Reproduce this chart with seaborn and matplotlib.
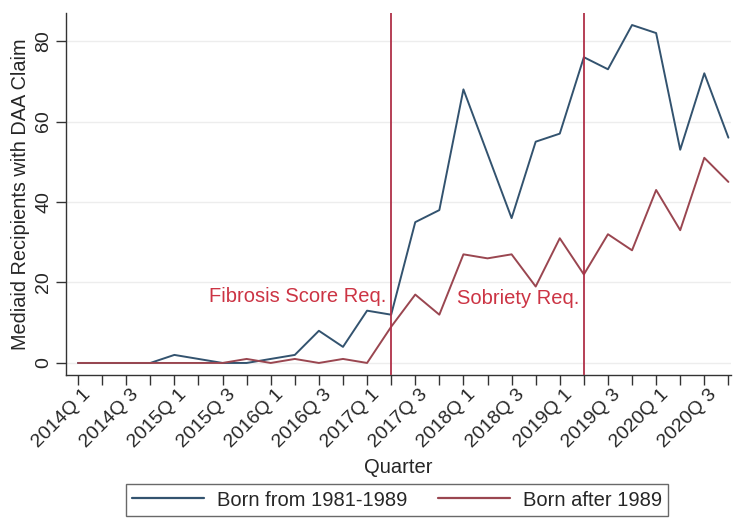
import matplotlib
matplotlib.use("Agg")
import matplotlib.pyplot as plt
import matplotlib.transforms as mtransforms
from matplotlib.lines import Line2D
import seaborn as sns
import pandas as pd

quarters = [f"{y}Q {q}" for y in range(2014, 2021) for q in range(1, 5)]
born_1981_1989 = [0, 0, 0, 0, 2, 1, 0, 0, 1, 2, 8, 4, 13, 12,
                  35, 38, 68, 52, 36, 55, 57, 76, 73, 84, 82, 53, 72, 56]
born_after_1989 = [0, 0, 0, 0, 0, 0, 0, 1, 0, 1, 0, 1, 0, 9,
                   17, 12, 27, 26, 27, 19, 31, 22, 32, 28, 43, 33, 51, 45]
series_names = ["Born from 1981-1989", "Born after 1989"]
policy_quarters = ["2017Q 2", "2019Q 2"]
policy_labels = ["Fibrosis Score Req.", "Sobriety Req."]
policy_label_y = [16.5, 16.0]
yticks = [0, 20, 40, 60, 80]

sns.set_theme(style="white")
plt.rcParams['font.family'] = ['Liberation Sans', 'DejaVu Sans']

df = pd.DataFrame({
    "idx": list(range(len(quarters))) * 2,
    "value": born_1981_1989 + born_after_1989,
    "series": [series_names[0]] * len(quarters) + [series_names[1]] * len(quarters),
})

fig = plt.figure(figsize=(7.33, 5.18), dpi=100)
ax = fig.add_axes([0.090, 0.276, 0.907, 0.699])

palette = {series_names[0]: "#33536f", series_names[1]: "#9a4650"}
sns.lineplot(data=df, x="idx", y="value", hue="series", palette=palette,
             linewidth=1.4, ax=ax, legend=False)

for q, lab, ly in zip(policy_quarters, policy_labels, policy_label_y):
    xi = quarters.index(q)
    ax.axvline(xi, color="#b03048", linewidth=1.3, zorder=3)
    ax.text(xi - 0.2, ly, lab, ha="right", va="center", color="#cc3444", fontsize=14.5)

ax.set_xlim(-0.5, 27.1)
ax.set_ylim(-3, 87)
ax.set_yticks(yticks)
ax.set_yticklabels([str(v) for v in yticks], rotation=90, va="center", fontsize=14)
ax.yaxis.grid(True, color="#ededed", linewidth=1.0)
ax.set_axisbelow(True)

ax.set_xticks(range(len(quarters)))
ax.set_xticklabels([q if i % 2 == 0 else "" for i, q in enumerate(quarters)],
                   rotation=45, ha="right", rotation_mode="anchor", fontsize=14)
ax.tick_params(axis="both", which="both", direction="out", length=7, width=1.0,
               color="#333333", bottom=True, left=True, pad=3)
ax.tick_params(axis="x", pad=1)
offset = mtransforms.ScaledTranslation(4 / 100, 0, fig.dpi_scale_trans)
for lbl in ax.get_xticklabels():
    lbl.set_transform(lbl.get_transform() + offset)

for s in ["top", "right"]:
    ax.spines[s].set_visible(False)
for s in ["left", "bottom"]:
    ax.spines[s].set_color("#333333")
    ax.spines[s].set_linewidth(1.0)

ax.set_xlabel("Quarter", fontsize=14.5, labelpad=5)
ax.set_ylabel("Mediaid Recipients with DAA Claim", fontsize=14.3, labelpad=4)

handles = [Line2D([0], [0], color=palette[n], linewidth=1.6) for n in series_names]
leg = fig.legend(handles, series_names, loc="center", bbox_to_anchor=(397 / 733, 1 - 500 / 518),
                 ncol=2, fontsize=14.5, frameon=True, fancybox=False, handlelength=3.6,
                 columnspacing=1.5, borderpad=0.3, handletextpad=0.65)
leg.get_frame().set_edgecolor("#444444")
leg.get_frame().set_linewidth(1.0)

fig.savefig("out.png", dpi=100)
